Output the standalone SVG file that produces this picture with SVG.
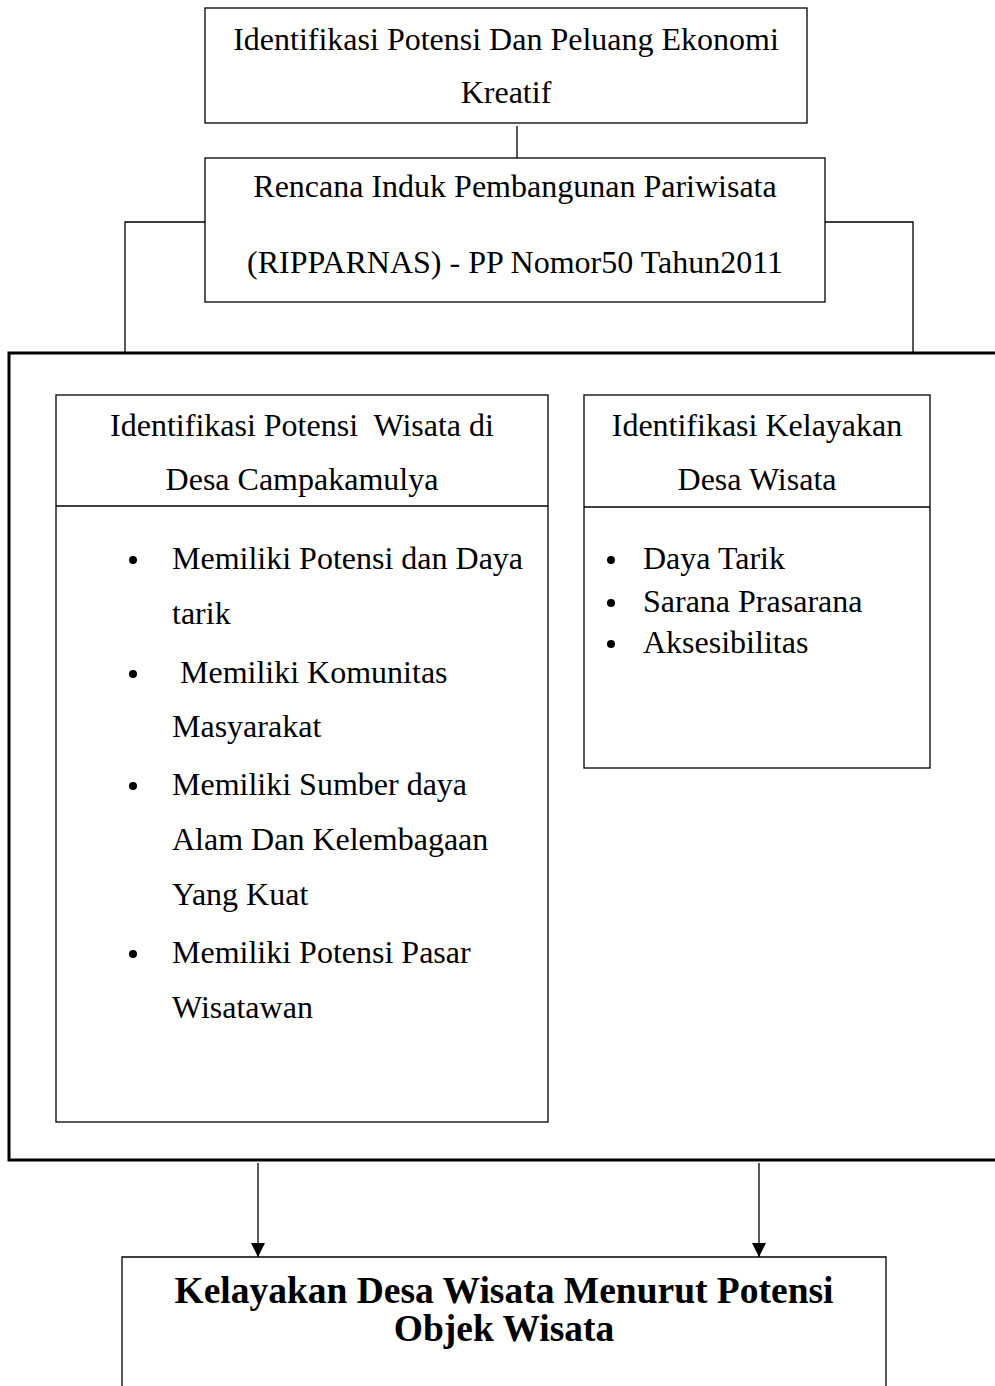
<svg xmlns="http://www.w3.org/2000/svg" width="995" height="1386" viewBox="0 0 995 1386">
<style>
.box{fill:#fff;stroke:#000;stroke-width:1.3}
.thick{fill:none;stroke:#000;stroke-width:3}
.ln{fill:none;stroke:#000;stroke-width:1.3}
.t{font-family:"Liberation Serif","Times New Roman",serif;font-size:32px;fill:#000}
.c{text-anchor:middle}
.b{font-family:"Liberation Serif","Times New Roman",serif;font-size:37.5px;font-weight:bold;fill:#000;text-anchor:middle}
</style>
<defs>
<marker id="arr" viewBox="0 0 10 10" refX="10" refY="5" markerWidth="14" markerHeight="15" markerUnits="userSpaceOnUse" orient="auto">
<path d="M0,0 L10,5 L0,10 Z" fill="#000"/>
</marker>
</defs>
<rect width="995" height="1386" fill="#fff"/>
<g id="connectors">
<line class="ln" x1="517" y1="126" x2="517" y2="158"/>
<polyline class="ln" points="205,222 125,222 125,353"/>
<polyline class="ln" points="825,222 913,222 913,353"/>
<line class="ln" x1="258" y1="1163" x2="258" y2="1257" marker-end="url(#arr)"/>
<line class="ln" x1="759" y1="1163" x2="759" y2="1257" marker-end="url(#arr)"/>
</g>
<g id="node-ekonomi">
<rect class="box" x="205" y="8" width="602" height="115"/>
<text class="t c" x="506" y="50">Identifikasi Potensi Dan Peluang Ekonomi</text>
<text class="t c" x="506" y="103">Kreatif</text>
</g>
<g id="node-ripparnas">
<rect class="box" x="205" y="158" width="620" height="144"/>
<text class="t c" x="515" y="197">Rencana Induk Pembangunan Pariwisata</text>
<text class="t c" x="515" y="273">(RIPPARNAS) - PP Nomor50 Tahun2011</text>
</g>
<g id="node-container">
<rect class="thick" x="9" y="353" width="1000" height="807"/>
</g>
<g id="node-potensi">
<rect class="box" x="56" y="395" width="492" height="727"/>
<line class="ln" x1="56" y1="506" x2="548" y2="506"/>
<text class="t c" x="302" y="436" xml:space="preserve">Identifikasi Potensi  Wisata di</text>
<text class="t c" x="302" y="490">Desa Campakamulya</text>
<g class="t">
<circle cx="133" cy="560" r="4"/>
<text x="172" y="569">Memiliki Potensi dan Daya</text>
<text x="172" y="624">tarik</text>
<circle cx="133" cy="674" r="4"/>
<text x="172" y="683" xml:space="preserve"> Memiliki Komunitas</text>
<text x="172" y="737">Masyarakat</text>
<circle cx="133" cy="786" r="4"/>
<text x="172" y="795">Memiliki Sumber daya</text>
<text x="172" y="850">Alam Dan Kelembagaan</text>
<text x="172" y="905">Yang Kuat</text>
<circle cx="133" cy="954" r="4"/>
<text x="172" y="963">Memiliki Potensi Pasar</text>
<text x="172" y="1018">Wisatawan</text>
</g>
</g>
<g id="node-kelayakan">
<rect class="box" x="584" y="395" width="346" height="373"/>
<line class="ln" x1="584" y1="507" x2="930" y2="507"/>
<text class="t c" x="757" y="436">Identifikasi Kelayakan</text>
<text class="t c" x="757" y="490">Desa Wisata</text>
<g class="t">
<circle cx="611" cy="560" r="4"/>
<text x="643" y="569">Daya Tarik</text>
<circle cx="611" cy="603" r="4"/>
<text x="643" y="612">Sarana Prasarana</text>
<circle cx="611" cy="644" r="4"/>
<text x="643" y="653">Aksesibilitas</text>
</g>
</g>
<g id="node-hasil">
<path class="ln" d="M122,1390 L122,1257 L886,1257 L886,1390" fill="#fff"/>
<text class="b" x="504" y="1303">Kelayakan Desa Wisata Menurut Potensi</text>
<text class="b" x="504" y="1341">Objek Wisata</text>
</g>
</svg>
